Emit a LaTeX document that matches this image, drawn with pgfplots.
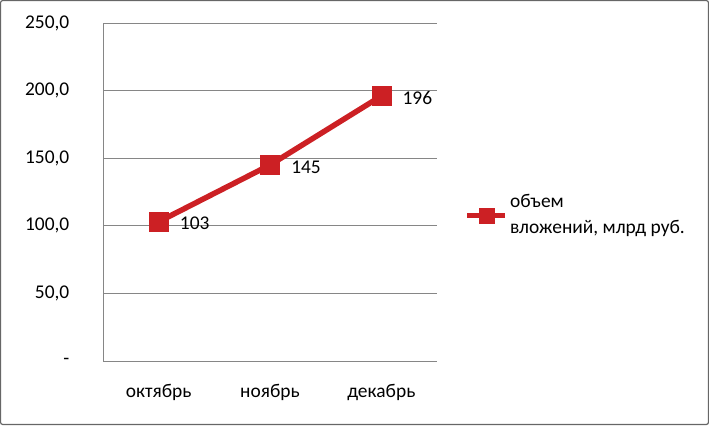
\documentclass[border=0pt]{standalone}
\usepackage{pgfplots}
\pgfplotsset{compat=1.18}
\usepackage{fontspec}
\setmainfont{Carlito}
\definecolor{serred}{RGB}{204,32,36}
\definecolor{gridgray}{RGB}{134,134,134}
\newcommand{\fs}{\fontsize{19.5}{26}\selectfont}
\begin{document}
\fs
\begin{tikzpicture}[x=1bp,y=1bp]
\draw[gray!80!black, line width=1.2bp, rounded corners=2bp] (0.6,0.6) rectangle (708.4,424.4);
\begin{axis}[
  at={(103bp,64bp)}, anchor=south west,
  scale only axis, width=334bp, height=338bp,
  xmin=-0.5, xmax=2.5, ymin=0, ymax=250,
  xtick={0,1,2}, xticklabels={октябрь,ноябрь,декабрь},
  ytick={0,50,100,150,200,250},
  yticklabels={-,{50,0},{100,0},{150,0},{200,0},{250,0}},
  axis x line*=bottom, axis y line*=left,
  axis line style={gridgray, line width=1bp, -},
  major tick length=0pt,
  ymajorgrids, grid style={gridgray, line width=0.9bp},
  xticklabel style={yshift=-17bp},
  yticklabel style={xshift=-27bp},
  tick label style={font=\fs},
  clip=false,
  legend style={at={(1.082,0.43)}, anchor=west, draw=none, fill=none,
    font=\fs, cells={align=left, anchor=west},
    inner sep=0pt, row sep=0pt},
  legend image code/.code={
    \draw[#1, mark=none] (0bp,0bp) -- (38bp,0bp);
    \draw[#1, only marks, mark size=7.5bp] plot coordinates {(19bp,0bp)};},
]
\addplot[serred, line width=5.5bp, mark=square*, mark size=9.5bp,
  mark options={line width=0.5bp, fill=serred},
  nodes near coords, point meta=explicit symbolic,
  every node near coord/.style={anchor=west, xshift=20bp, yshift=-2bp, text=black, font=\fs, inner sep=1bp}]
  coordinates {(0,103) [103] (1,145) [145] (2,196) [196]};
\addlegendentry{объем\\вложений, млрд руб.}
\end{axis}
\end{tikzpicture}
\end{document}
